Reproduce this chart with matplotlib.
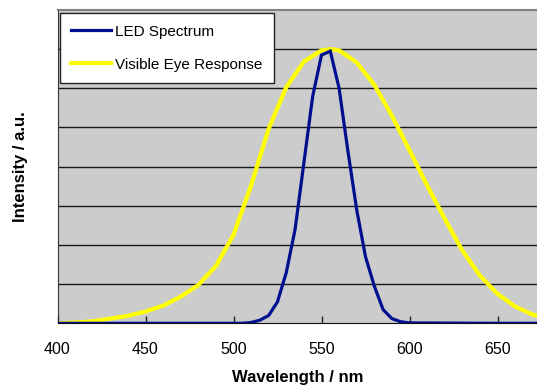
import numpy as np
import matplotlib.pyplot as plt

# Datos (intensidad en unidades arbitrarias)
wl_eye = [400, 410, 420, 430, 440, 450, 460, 470, 480, 490, 500, 510, 520, 530,
          540, 550, 555, 560, 570, 580, 590, 600, 610, 620, 630, 640, 650, 660,
          670, 680]
eye = [0.0, 0.02, 0.05, 0.12, 0.19, 0.30, 0.45, 0.68, 0.98, 1.46, 2.26, 3.52,
       4.97, 6.03, 6.68, 6.97, 7.0, 6.97, 6.66, 6.09, 5.30, 4.42, 3.52, 2.67,
       1.86, 1.22, 0.75, 0.43, 0.22, 0.12]

wl_led = [400, 450, 500, 505, 510, 515, 520, 525, 530, 535, 540, 545, 550, 555,
          560, 565, 570, 575, 580, 585, 590, 595, 600, 650, 680]
led = [0.0, 0.0, 0.0, 0.0, 0.02, 0.08, 0.2, 0.55, 1.3, 2.4, 4.1, 5.8, 6.85,
       6.95, 6.0, 4.4, 2.9, 1.7, 0.95, 0.35, 0.12, 0.04, 0.01, 0.0, 0.0]

xticks = [400, 450, 500, 550, 600, 650]

plt.rcParams['font.family'] = ['Liberation Sans', 'DejaVu Sans']

fig = plt.figure(figsize=(5.37, 3.87), dpi=100)
ax = fig.add_axes([57.5/537, (387-323.3)/387, (537-57.5)/537, 313.3/387])
ax.set_facecolor('#cccccc')

# líneas horizontales de la rejilla
for yv in range(1, 8):
    ax.axhline(yv, color='#1a1a1a', lw=1.0, zorder=1)

ax.plot(wl_led, led, color='#000f8f', lw=2.3, label='LED Spectrum', zorder=3,
        solid_joinstyle='miter')
ax.plot(wl_eye, eye, color='#ffff00', lw=3.0, label='Visible Eye Response', zorder=2)

ax.set_xlim(400, 400 + (537-57.5)/1.76)
ax.set_ylim(0, 8)
ax.set_xticks(xticks)
ax.set_xticklabels([str(t) for t in xticks])
ax.set_yticks([])
ax.tick_params(axis='x', direction='in', length=5, width=1, pad=13.5, labelsize=11.5,
               color='#222222')

ax.spines['top'].set_color('#808080')
ax.spines['top'].set_linewidth(1.5)
ax.spines['right'].set_visible(False)
ax.spines['left'].set_color('#333333')
ax.spines['bottom'].set_color('#111111')

ax.set_xlabel('Wavelength / nm', fontsize=12, fontweight='bold', labelpad=9.5)
ax.set_ylabel('Intensity / a.u.', fontsize=12, fontweight='bold', labelpad=21)

leg = ax.legend(loc='upper left', bbox_to_anchor=(0.005, 0.99), borderaxespad=0,
                fancybox=False, framealpha=1, edgecolor='#222222', fontsize=11,
                handlelength=2.6, handletextpad=0.25, labelspacing=1.25,
                borderpad=0.75)
leg.get_frame().set_linewidth(1.0)

plt.savefig('out.png', dpi=100)
